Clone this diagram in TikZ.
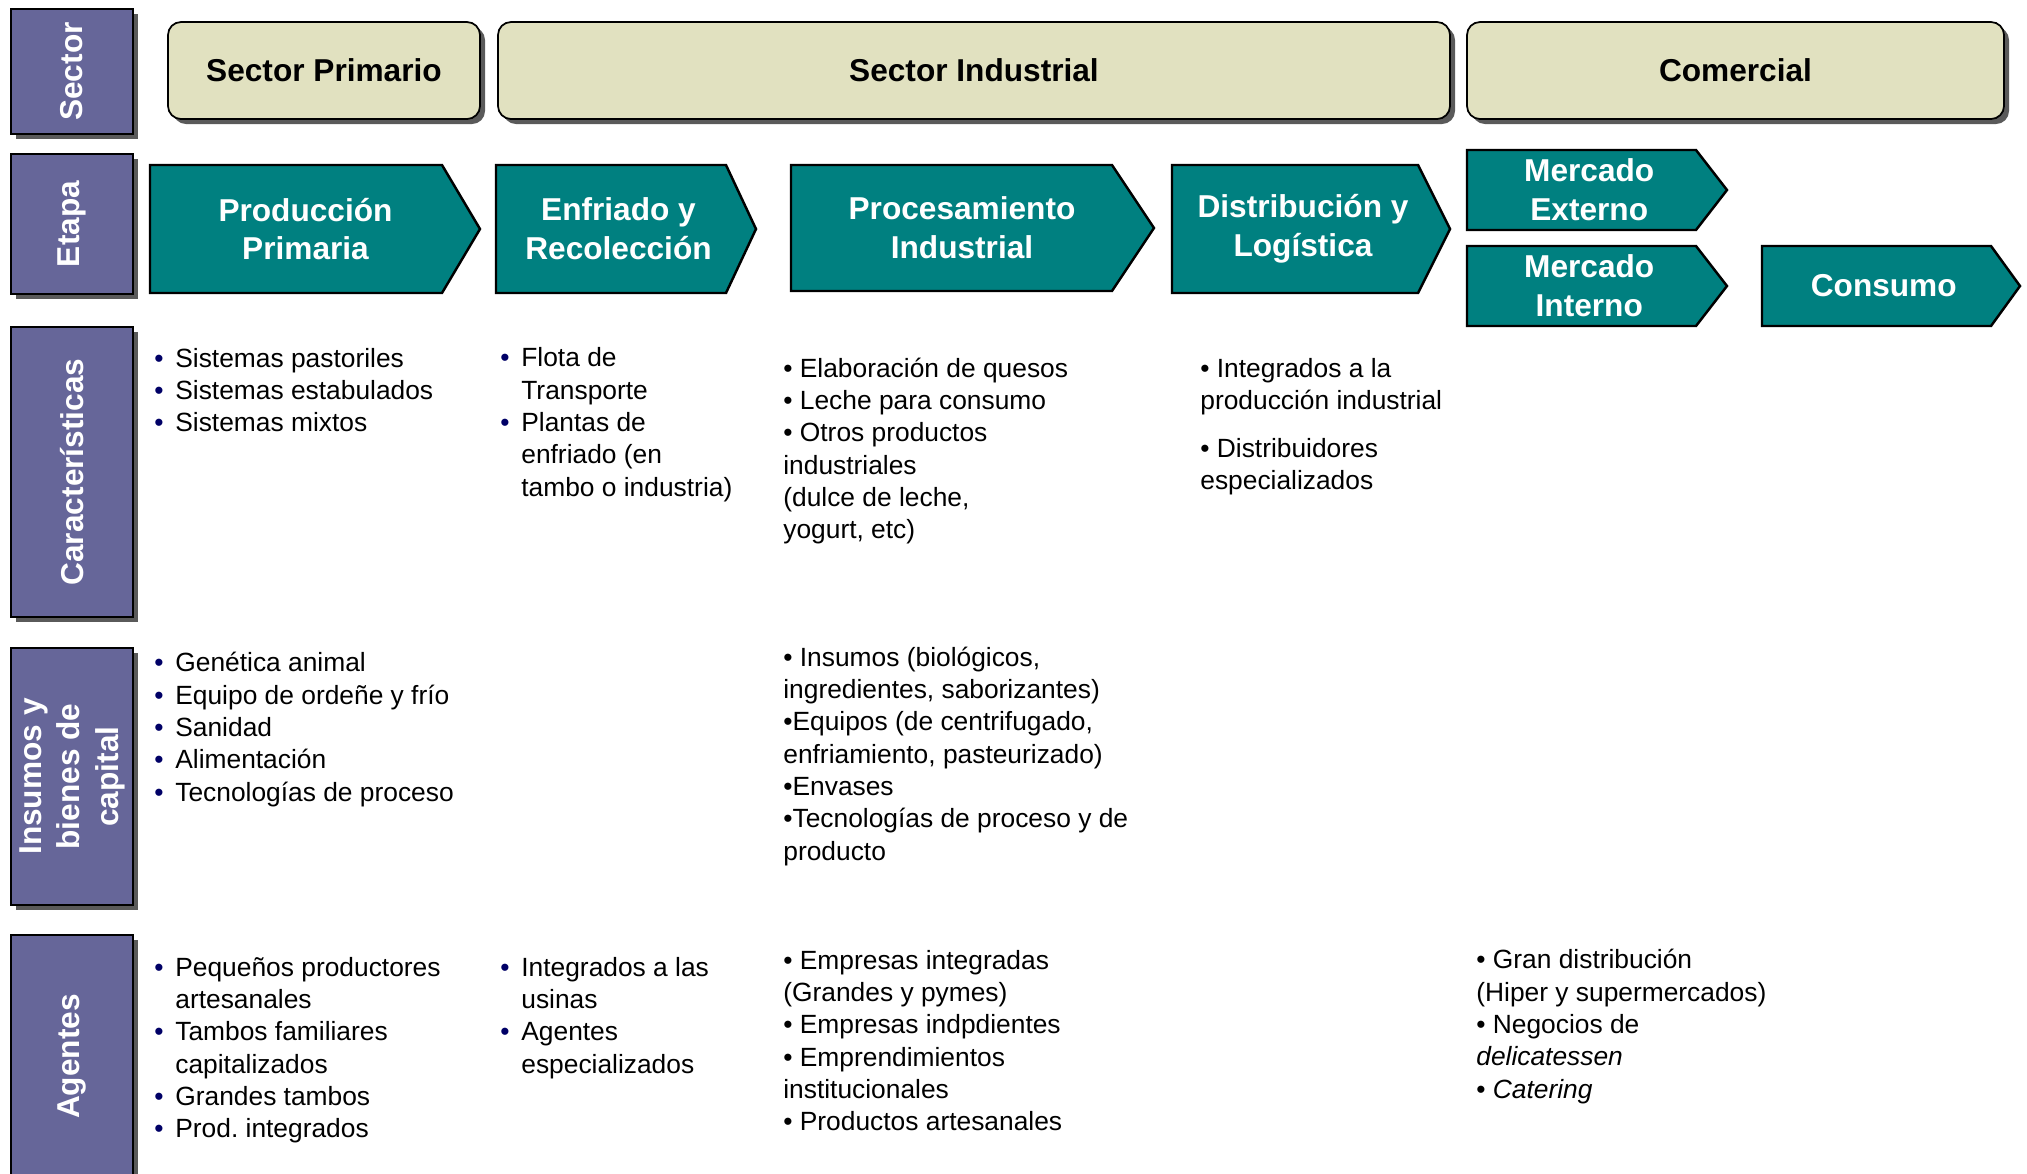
\documentclass[tikz,border=0pt]{standalone}
\usepackage{fontspec}
\setmainfont{Liberation Sans}
\usepackage{graphicx}
\usepackage{tikz}
\usetikzlibrary{shapes.geometric, positioning, shadows}
\definecolor{etapa}{RGB}{0,128,128}
\definecolor{rowlabel}{RGB}{102,102,153}
\definecolor{sector}{RGB}{225,225,192}
\definecolor{shade}{RGB}{90,90,90}
\definecolor{bulletnavy}{RGB}{0,0,102}

\newcommand{\pbul}{\makebox[0.42cm][l]{\textcolor{bulletnavy}{•}}}
\newcommand{\pind}{\hspace*{0.42cm}}
\newcommand{\stagearrow}[7]{%
  \draw[stage] (#2,#5) -- (#3,#5) -- (#4,{(#5+#6)/2}) -- (#3,#6) -- (#2,#6) -- cycle;
  \node[stagetext] (#1) at ({(2*#2+#3+#4)/4},{(#5+#6)/2}) {#7};}

\begin{document}
\begin{tikzpicture}[x=0.2mm, y=-0.2mm]
\tikzstyle{rowlab} = [rectangle, draw=black, line width=1pt, fill=rowlabel, text=white, inner sep=0pt,
    font=\fontsize{18}{22}\selectfont\bfseries, minimum width=2.44cm,
    drop shadow={shadow xshift=0.1cm, shadow yshift=-0.1cm, fill=shade, opacity=1}]
\tikzstyle{sectorbox} = [rectangle, rounded corners=0.26cm, draw=black, line width=1pt, fill=sector,
    font=\fontsize{18}{22}\selectfont\bfseries, minimum height=1.94cm,
    drop shadow={shadow xshift=0.1cm, shadow yshift=-0.1cm, fill=shade, opacity=1}]
\tikzstyle{stage} = [draw=black, line width=1.4pt, fill=etapa]
\tikzstyle{stagetext} = [text=white, align=center, font=\fontsize{18}{22}\selectfont\bfseries]
\tikzstyle{txt} = [anchor=base west, align=left, inner sep=0pt, font=\fontsize{15}{18.4}\selectfont]
    \useasboundingbox (0,0) rectangle (2027,1173);
    \clip (0,0) rectangle (2027,1173);

    % Row labels
    \node [rowlab, minimum height=2.5cm] (sector) at (72,71.5) {\rotatebox{90}{Sector}};
    \node [rowlab, minimum height=2.8cm] (etapa) at (72,224) {\rotatebox{90}{Etapa}};
    \node [rowlab, minimum height=5.8cm] (caract) at (72,472) {\rotatebox{90}{Características}};
    \node [rowlab, minimum height=5.14cm] (insumos) at (72,776.5)
        {\rotatebox{90}{\begin{tabular}{@{}c@{}}Insumos y\\bienes de\\capital\end{tabular}}};
    \node [rowlab, minimum height=4.86cm] (agentes) at (72,1056.5) {\rotatebox{90}{Agentes}};

    % Sectors
    \node [sectorbox, minimum width=6.24cm] (sprim) at (324,70.5) {Sector Primario};
    \node [sectorbox, minimum width=19.04cm] (sind) at (974,70.5) {Sector Industrial};
    \node [sectorbox, minimum width=10.74cm] (scom) at (1735.5,70.5) {Comercial};

    % Stages
    \stagearrow{prod}{150}{442}{480}{165}{293}{Producción\\Primaria}
    \stagearrow{enfr}{496}{726}{756}{165}{293}{Enfriado y\\Recolección}
    \stagearrow{proc}{791}{1112}{1154}{165}{291}{Procesamiento\\Industrial}
    \stagearrow{dist}{1172}{1418}{1450}{165}{293}{Distribución y\\Logística}
    \stagearrow{mext}{1467}{1696}{1727}{150}{230}{Mercado\\Externo}
    \stagearrow{mint}{1467}{1696}{1727}{246}{326}{Mercado\\Interno}
    \stagearrow{cons}{1762}{1991}{2020}{246}{326}{Consumo}

%características (base = last line)
    \node [txt] (carprod) at (154,431.7) {\pbul Sistemas pastoriles\\ \pbul Sistemas estabulados\\ \pbul Sistemas mixtos};
    \node [txt] (carenfr) at (500,496.3) {\pbul Flota de\\ \pind Transporte\\ \pbul Plantas de\\ \pind enfriado (en\\ \pind tambo o industria)};
    \node [txt] (carproc) at (783,538.7) {• Elaboración de quesos\\ • Leche para consumo\\ • Otros productos\\ industriales\\ (dulce de leche,\\ yogurt, etc)};
    \node [txt] (cardist) at (1200,489.5) {• Integrados a la\\ producción industrial\\[8.8pt] • Distribuidores\\ especializados};

%insumos
    \node [txt] (insprod) at (154,801.3) {\pbul Genética animal\\ \pbul Equipo de ordeñe y frío\\ \pbul Sanidad\\ \pbul Alimentación\\ \pbul Tecnologías de proceso};
    \node [txt] (insproc) at (783,860) {• Insumos (biológicos,\\ ingredientes, saborizantes)\\ •Equipos (de centrifugado,\\ enfriamiento, pasteurizado)\\ •Envases\\ •Tecnologías de proceso y de\\ producto};

%agentes
    \node [txt] (agprod) at (154,1137.7) {\pbul Pequeños productores\\ \pind artesanales\\ \pbul Tambos familiares\\ \pind capitalizados\\ \pbul Grandes tambos\\ \pbul Prod.\ integrados};
    \node [txt] (agenfr) at (500,1073) {\pbul Integrados a las\\ \pind usinas\\ \pbul Agentes\\ \pind especializados};
    \node [txt] (agproc) at (783,1130.7) {• Empresas integradas\\ (Grandes y pymes)\\ • Empresas indpdientes\\ • Emprendimientos\\ institucionales\\ • Productos artesanales};
    \node [txt] (agcom) at (1476,1098.3) {• Gran distribución\\ (Hiper y supermercados)\\ • Negocios de\\ \textit{delicatessen}\\ • \textit{Catering}};

\end{tikzpicture}
\end{document}
